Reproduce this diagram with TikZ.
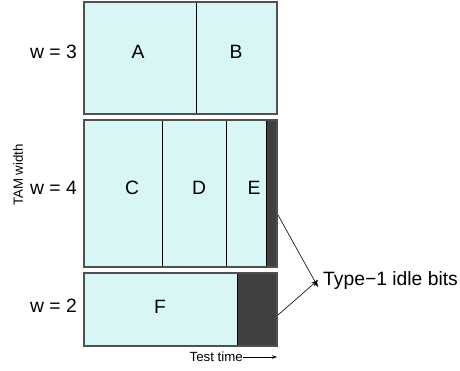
\documentclass[tikz,border=0pt]{standalone}
\usepackage{fontspec}
\setmainfont{Liberation Sans}
\usetikzlibrary{arrows.meta}
\definecolor{cellfill}{RGB}{216,246,246}
\definecolor{idlefill}{RGB}{64,64,64}
\definecolor{rimcol}{RGB}{80,80,80}
\tikzset{
  cell/.style={fill=cellfill, draw=black, line width=0.8pt},
  idlebar/.style={fill=idlefill, draw=black, line width=0.8pt},
  rim/.style={draw=rimcol, line width=1.3pt},
  big/.style={inner sep=0pt, font=\fontsize{19.3}{19.3}\selectfont},
  small/.style={inner sep=0pt, font=\fontsize{13.3}{13.3}\selectfont},
  pointer/.style={-{Stealth[length=7pt,width=4.5pt]}, line width=0.6pt}
}
\begin{document}
\begin{tikzpicture}[x=1pt,y=-1pt]
\useasboundingbox (0,0) rectangle (460,370);

% row w = 3
\path[cell] (84,2) rectangle (196,114);
\path[cell] (196,2) rectangle (277,114);
\path[rim] (84,2) rectangle (277,114);

% row w = 4
\path[cell] (84,120) rectangle (162,267);
\path[cell] (162,120) rectangle (226,267);
\path[cell] (226,120) rectangle (266,267);
\path[idlebar] (266,120) rectangle (277,267);
\path[rim] (84,120) rectangle (277,267);

% row w = 2
\path[cell] (84,273) rectangle (237,346);
\path[idlebar] (237,273) rectangle (277,346);
\path[rim] (84,273) rectangle (277,346);

% core labels
\node[big] (A) at (138,52) {A};
\node[big] (B) at (236,52) {B};
\node[big] (C) at (132,188) {C};
\node[big] (D) at (199,188) {D};
\node[big] (E) at (254,188) {E};
\node[big] (F) at (160,307) {F};

% width labels
\node[big, anchor=east] (w3) at (77,52) {w = 3};
\node[big, anchor=east] (w4) at (77,188) {w = 4};
\node[big, anchor=east] (w2) at (77,306) {w = 2};
\node[small, rotate=90] (tam) at (18,175) {TAM width};

% time axis
\node[small, anchor=east] (tt) at (243,357) {Test time};
\coordinate (ttend) at (277,357);
\draw[-{Stealth[length=5pt,width=3.5pt]}, line width=0.6pt] (tt.east) -- (ttend);

% idle bit callout
\node[big, anchor=west] (idle) at (323,281) {Type\char"2212 1 idle bits};
\coordinate (p1) at (278,215);
\coordinate (p2) at (278,315);
\draw[pointer] (p1) -- ([xshift=-5pt,yshift=-6pt]idle.west);
\draw[pointer] (p2) -- ([xshift=-5pt,yshift=1pt]idle.west);
\end{tikzpicture}
\end{document}
